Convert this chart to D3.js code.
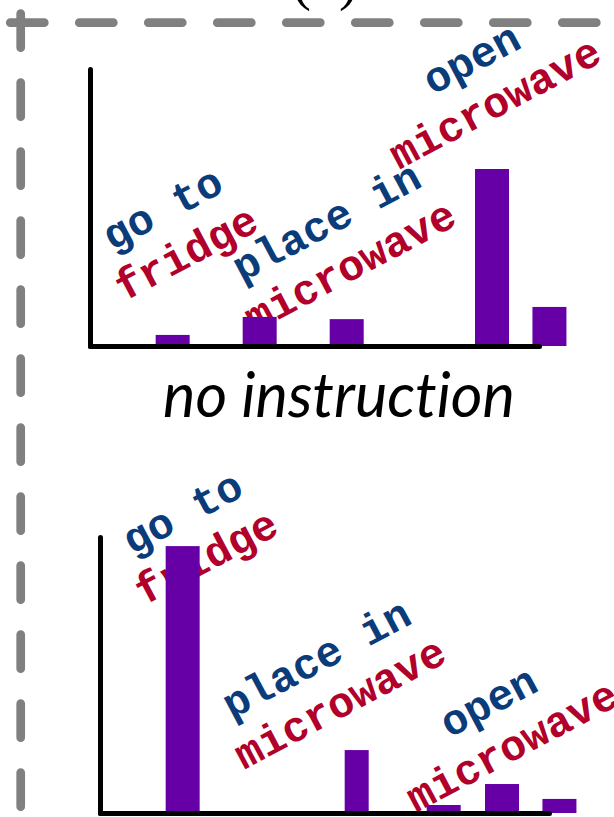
<!DOCTYPE html>
<html>
<head>
<meta charset="utf-8">
<script src="https://cdn.jsdelivr.net/npm/d3@7"></script>
<style>
    body { margin: 0; background: #fff; }
    svg { display: block; }
</style>
</head>
<body>
<div id="chart"></div>
<script>
// bar slots along the x axis (shared by both panels) and bar heights
const slots = [0.95, 1.95, 2.95, 3.95, 4.62, 5.28];
const withInstruction = [0.040, 0.105, 0.097, 0, 0.639, 0.141];
const noInstruction = [0.967, 0, 0.228, 0.029, 0.105, 0.051];

const actionVerbs = ["go to", "place in", "open"];
const actionObjects = ["fridge", "microwave", "microwave"];
const captionText = "no instruction";
const panelTag = "(b)";

const w = 614,
    h = 817,
    axisLen = 449,
    barWidth = 34;

const colors = {
    verb: "#0b3c7a",
    object: "#b1002a",
    bar: "#6600a6",
    frame: "#808080"
};

// layout of the two panels (origin = where the axes meet)
const panels = [
    {values: withInstruction, ox: 90, oy: 346, axisH: 277, narrow: -1,
        labelAt: [[79, -125], [243, -112], [388, -275]]},
    {values: noInstruction, ox: 100, oy: 813, axisH: 276, narrow: 2,
        labelAt: [[89, -288], [223, -142], [395, -99]]}
];

const svg = d3.select("#chart")
    .append("svg")
    .attr("width", w)
    .attr("height", h);

// panel letter, cut off by the top edge: only the bracket tails show
svg.append("text")
    .attr("x", 325)
    .attr("y", -1)
    .attr("text-anchor", "middle")
    .style("font-family", "'Liberation Serif', serif")
    .style("font-size", "56px")
    .text(panelTag);

// dashed frame
const frame = svg.append("g")
    .attr("fill", "none")
    .attr("stroke", colors.frame)
    .attr("stroke-width", 8.7)
    .attr("stroke-linecap", "round")
    .attr("stroke-dasharray", "34,35");

frame.append("line")
    .attr("x1", 10.3).attr("y1", 22.7)
    .attr("x2", w + 40).attr("y2", 22.7);

frame.append("line")
    .attr("x1", 20.7).attr("y1", 13.7)
    .attr("x2", 20.7).attr("y2", h + 40);

function drawPanel(p) {
    let g = svg.append("g");

    let x = d3.scaleLinear().domain([0, 5.16]).range([p.ox, p.ox + axisLen]);
    let y = d3.scaleLinear().domain([0, 1]).range([p.oy, p.oy - p.axisH]);

    // labels first, the bars sit on top of them
    let labels = g.selectAll("text.label")
        .data(actionVerbs.map((v, i) => ({verb: v, object: actionObjects[i], at: p.labelAt[i]})))
        .enter().append("text")
        .attr("class", "label")
        .attr("transform", d => "translate(" + (p.ox + d.at[0]) + "," + (p.oy + d.at[1]) + ") rotate(-28)")
        .attr("text-anchor", "middle")
        .style("font-family", "'Liberation Mono', 'Courier New', monospace")
        .style("font-weight", "bold")
        .style("font-size", "43px");

    labels.append("tspan")
        .attr("x", 0)
        .attr("fill", colors.verb)
        .text(d => d.verb);

    labels.append("tspan")
        .attr("x", 0)
        .attr("dy", "1.17em")
        .attr("fill", colors.object)
        .text(d => d.object);

    g.selectAll("rect")
        .data(p.values.map((v, i) => ({v: v, slot: slots[i], i: i})).filter(d => d.v > 0))
        .enter().append("rect")
        .attr("x", d => x(d.slot) - (d.i === p.narrow ? 12 : barWidth / 2))
        .attr("width", d => d.i === p.narrow ? 24 : barWidth)
        .attr("y", d => y(d.v))
        .attr("height", d => y(0) - y(d.v))
        .attr("fill", colors.bar);

    let yAxis = g.append("g")
        .attr("transform", "translate(" + p.ox + ",0)")
        .call(d3.axisLeft(y).ticks(0).tickSizeOuter(0));

    let xAxis = g.append("g")
        .attr("transform", "translate(0," + p.oy + ")")
        .call(d3.axisBottom(x).ticks(0).tickSizeOuter(0));

    [yAxis, xAxis].forEach(a => a.select(".domain")
        .attr("stroke", "#000")
        .attr("stroke-width", 5)
        .attr("stroke-linecap", "round"));
}

panels.forEach(drawPanel);

// caption between the panels, sized to the reference width
let caption = svg.append("text")
    .attr("x", 339)
    .attr("y", 417)
    .attr("text-anchor", "middle")
    .style("font-family", "Lato, 'Open Sans', sans-serif")
    .style("font-style", "italic")
    .style("font-variant-ligatures", "none")
    .style("font-size", "50px")
    .text(captionText);

let natural = caption.node().getComputedTextLength();
caption.style("font-size", (50 * 352 / natural) + "px");
</script>
</body>
</html>
